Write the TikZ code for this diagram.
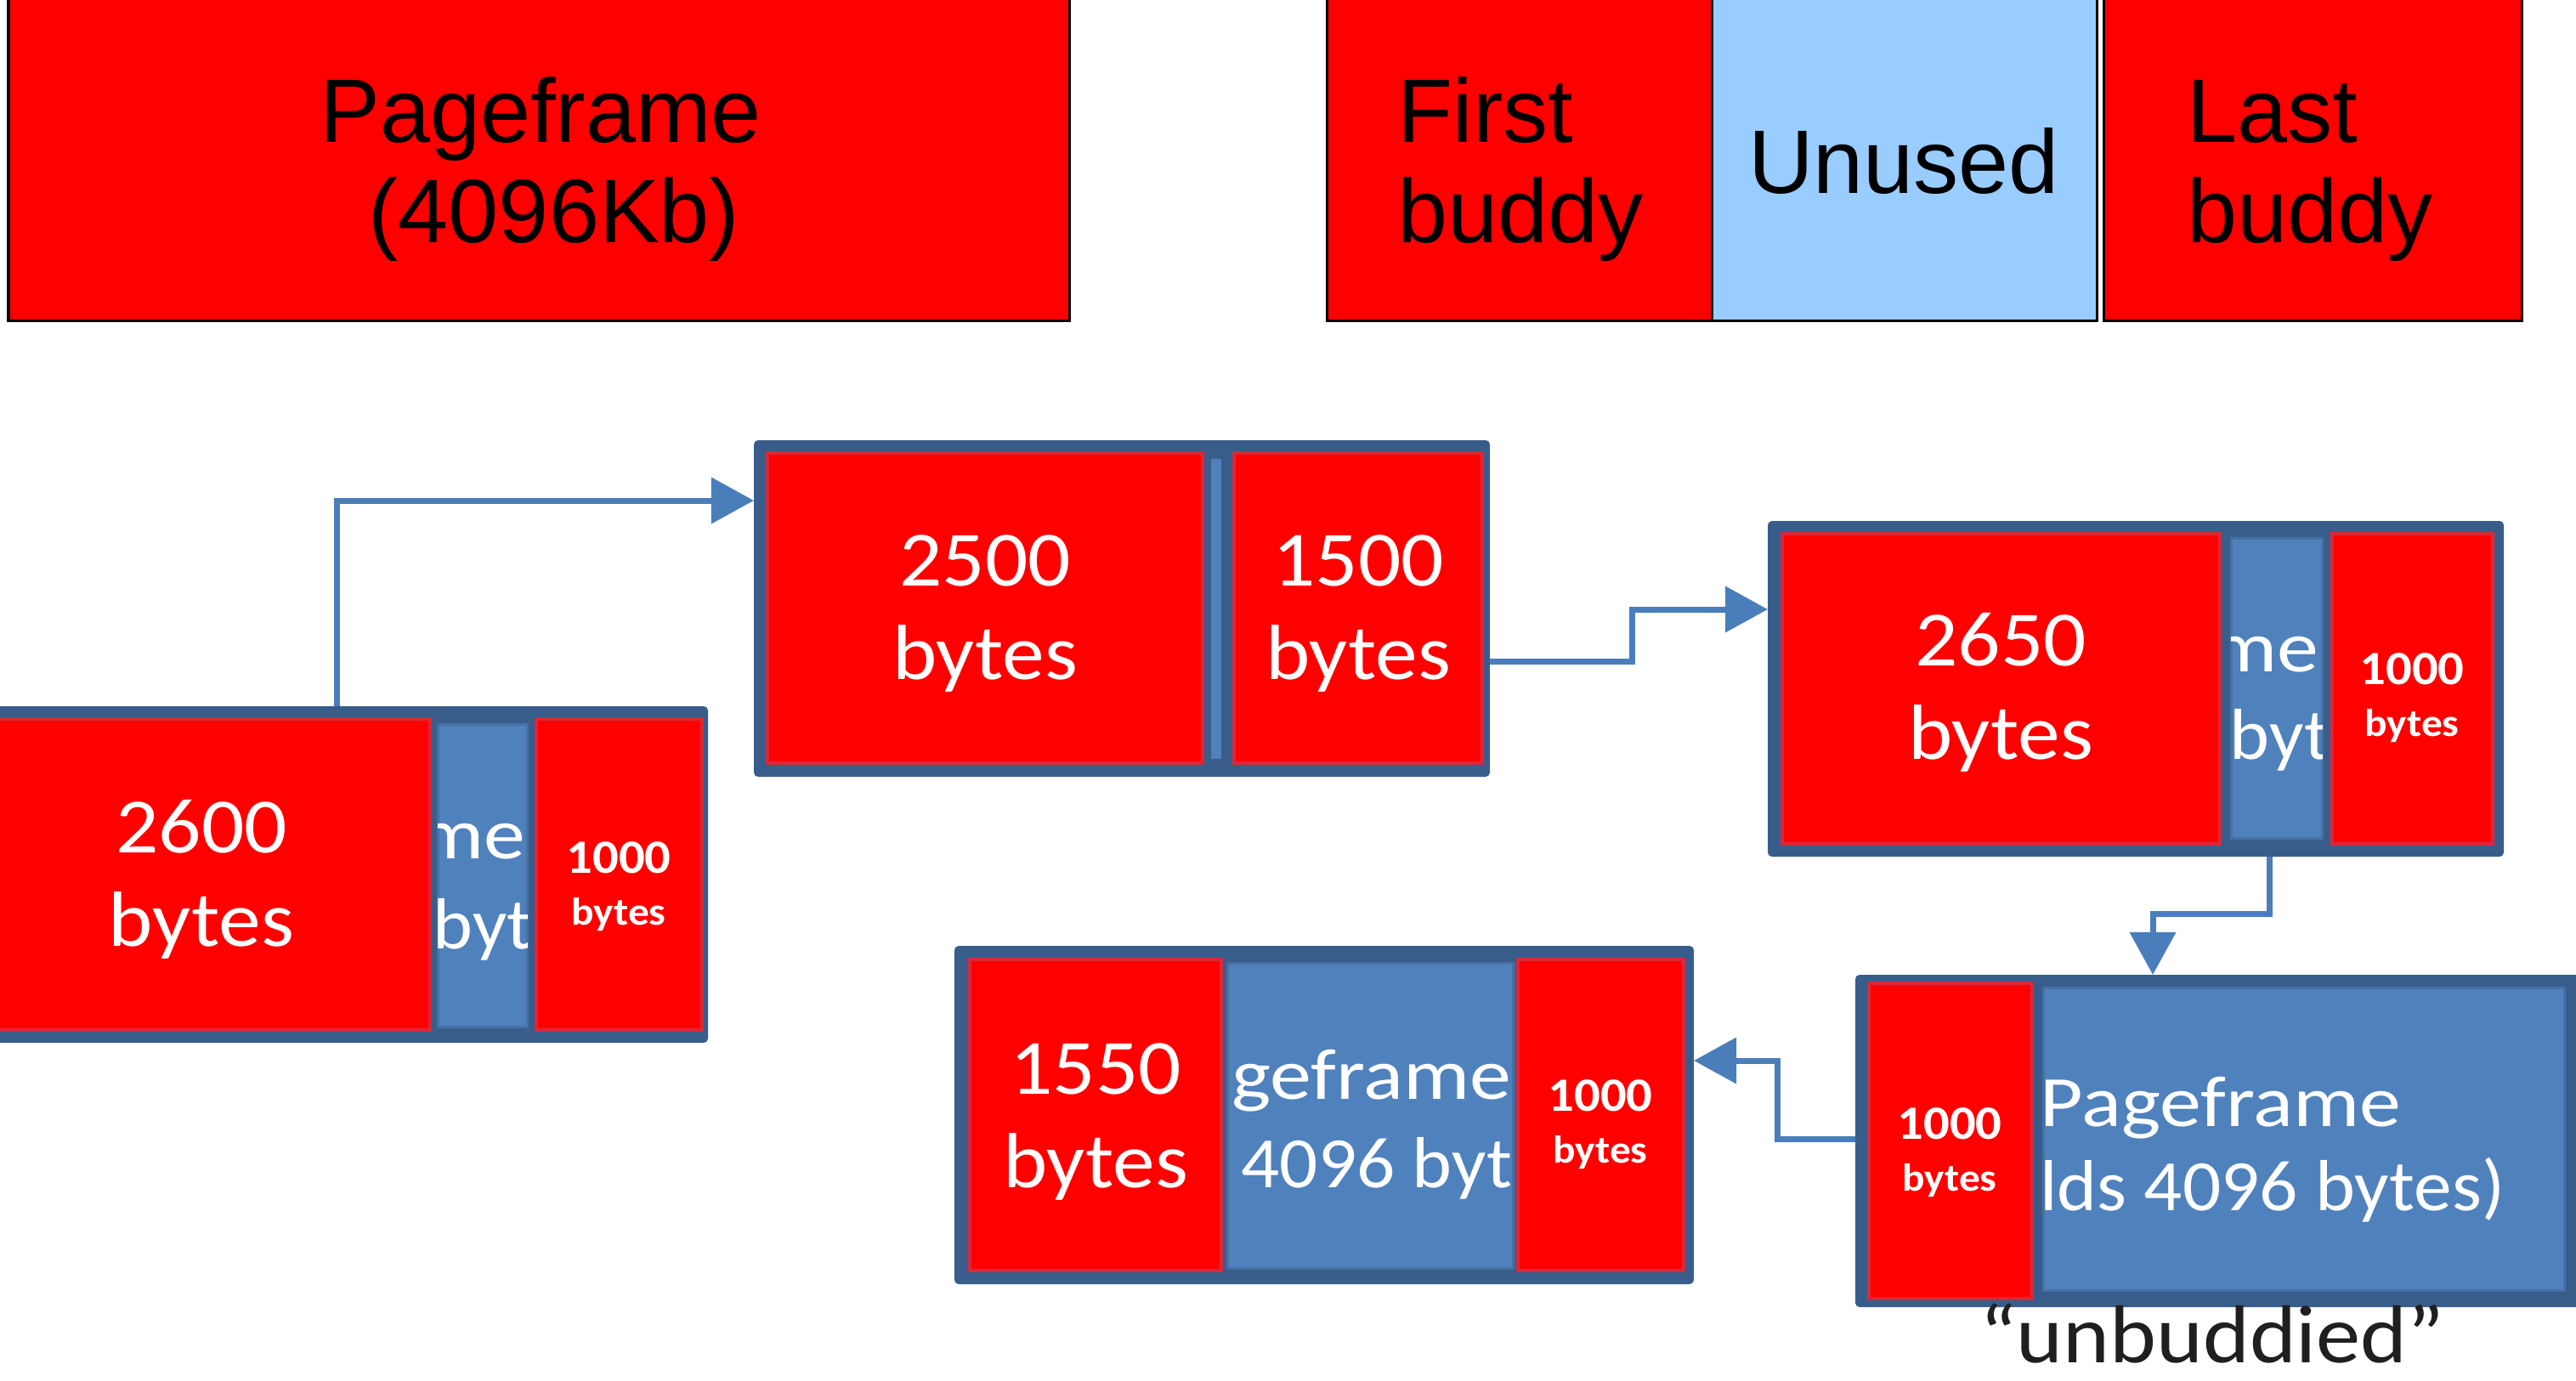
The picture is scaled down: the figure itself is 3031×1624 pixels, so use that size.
\documentclass[tikz,border=0pt]{standalone}
\usepackage{fontspec}
\usetikzlibrary{arrows.meta}
\newfontfamily\arialf{Liberation Sans}
\newfontfamily\calf[FakeStretch=1.08]{Carlito}
\newfontfamily\calh[FakeStretch=1.05]{Carlito}
\newfontfamily\calw[FakeStretch=1.15]{Carlito}
\definecolor{frameblue}{HTML}{385D8A}
\definecolor{cellblue}{HTML}{4F81BD}
\definecolor{connblue}{HTML}{4A7EBB}
\definecolor{lightblue}{HTML}{99CCFF}
\definecolor{redborder}{HTML}{D9283C}
\definecolor{cellblueedge}{HTML}{4671A6}
\tikzset{
  topred/.style={fill=red, draw=black, line width=0.03cm},
  topblue/.style={fill=lightblue, draw=black, line width=0.03cm},
  grpframe/.style={fill=frameblue, rounded corners=0.05cm},
  redcell/.style={fill=red, draw=redborder, line width=0.04cm},
  bluecell/.style={fill=cellblue, draw=cellblueedge, line width=0.03cm},
  stripcell/.style={fill=cellblue},
  toptxt/.style={font=\arialf\fontsize{30.2}{33.6}\selectfont, inner sep=0, text=black},
  bigtxt/.style={font=\calf\fontsize{26.2}{31.3}\selectfont, text=white, inner sep=0, anchor=base},
  smallnum/.style={font=\calf\bfseries\fontsize{16}{17.6}\selectfont, text=white, inner sep=0, anchor=base},
  pfline/.style={font=\calw\fontsize{24.2}{29}\selectfont, text=white, inner sep=0},
  hdline/.style={font=\calh\fontsize{24.2}{29}\selectfont, text=white, inner sep=0},
  captxt/.style={font=\calf\fontsize{27.5}{33}\selectfont, text=black!88, inner sep=0, anchor=base},
  conn/.style={draw=connblue, line width=0.07cm, -{Triangle[length=0.5cm,width=0.53cm]}},
}
\newcommand\boxnode[6]{%
  \pgfmathsetmacro\bnw{((#5)-(#3))*0.01}%
  \pgfmathsetmacro\bnh{((#6)-(#4))*0.01}%
  \node[#2, anchor=north west, inner sep=0, outer sep=0,
        minimum width=\bnw cm, minimum height=\bnh cm] (#1) at (#3,#4) {};}
% two stacked lines; the node's base is the first line's baseline
\newcommand\twol[3]{\begin{tabular}[t]{@{}#1@{}}#2\\#3\end{tabular}}
\newcommand\smallu{\fontsize{13}{17.6}\selectfont}
\begin{document}
\begin{tikzpicture}[x=0.01cm, y=-0.01cm]
\clip (0,0) rectangle (3031,1624);
\fill[white] (0,0) rectangle (3031,1624);

% ---------- top row ----------
\boxnode{pf}{topred}{10}{-20}{1258}{377}
\boxnode{fb}{topred}{1561}{-20}{2014}{377}
\boxnode{un}{topblue}{2014}{-20}{2467}{377}
\boxnode{lb}{topred}{2475}{-20}{2967}{377}
\node[toptxt, anchor=base] (pft) at (636,167) {\twol{c}{Pageframe}{\hspace*{0.3em}(4096Kb)}};
\node[toptxt, anchor=base west] (fbt) at (1644,167) {\twol{l}{First}{buddy}};
\node[toptxt, anchor=base] (unt) at (2240,227) {Unused};
\node[toptxt, anchor=base west] (lbt) at (2573,167) {\twol{l}{Last}{buddy}};

% ---------- group frames ----------
\boxnode{g1}{grpframe}{-40}{831}{833}{1227}
\boxnode{g2}{grpframe}{887}{518}{1753}{914}
\boxnode{g3}{grpframe}{2080}{613}{2946}{1008}
\boxnode{g4}{grpframe}{1123}{1113}{1993}{1511}
\boxnode{g5}{grpframe}{2183}{1147}{3060}{1538}

% ---------- cells ----------
\boxnode{g1a}{redcell}{-40}{846}{506}{1212}
\boxnode{g1b}{bluecell}{515}{852}{620}{1208}
\boxnode{g1c}{redcell}{631}{846}{826}{1212}

\boxnode{g2a}{redcell}{903}{533}{1415}{898}
\boxnode{g2s}{stripcell}{1425}{540}{1437}{893}
\boxnode{g2c}{redcell}{1452}{533}{1744}{898}

\boxnode{g3a}{redcell}{2097}{628}{2612}{993}
\boxnode{g3b}{bluecell}{2625}{633}{2732}{986}
\boxnode{g3c}{redcell}{2744}{628}{2933}{993}

\boxnode{g4a}{redcell}{1141}{1129}{1437}{1495}
\boxnode{g4b}{bluecell}{1444}{1133}{1780}{1492}
\boxnode{g4c}{redcell}{1786}{1129}{1981}{1495}

\boxnode{g5a}{redcell}{2199}{1157}{2391}{1528}
\boxnode{g5b}{bluecell}{2404}{1162}{3017}{1518}

% ---------- red cell texts ----------
\node[bigtxt] (t1a) at (237,1003) {\twol{c}{2600}{bytes}};
\node[bigtxt] (t2a) at (1159,689) {\twol{c}{2500}{bytes}};
\node[bigtxt] (t2c) at (1598,689) {\twol{c}{1500}{bytes}};
\node[bigtxt] (t3a) at (2354,783) {\twol{c}{2650}{bytes}};
\node[bigtxt] (t4a) at (1289,1287) {\twol{c}{1550}{bytes}};

\node[smallnum] (t1c) at (728,1027) {\twol{c}{1000}{\smallu bytes}};
\node[smallnum] (t3c) at (2838,805) {\twol{c}{1000}{\smallu bytes}};
\node[smallnum] (t4c) at (1883,1307) {\twol{c}{1000}{\smallu bytes}};
\node[smallnum] (t5a) at (2294,1340) {\twol{c}{1000}{\smallu bytes}};

% ---------- blue cell texts (clipped) ----------
\begin{scope}
\clip (g1b.north west) rectangle (g1b.south east);
\node[pfline, anchor=base east] (t1b1) at (619,1010) {Pageframe};
\node[hdline, anchor=base west] (t1b2) at (509,1116) {\llap{(holds 4096 }bytes)};
\end{scope}
\begin{scope}
\clip (g3b.north west) rectangle (g3b.south east);
\node[pfline, anchor=base east] (t3b1) at (2729,790) {Pageframe};
\node[hdline, anchor=base west] (t3b2) at (2623,893) {\llap{(holds 4096 }bytes)};
\end{scope}
\begin{scope}
\clip (g4b.north west) rectangle (g4b.south east);
\node[pfline, anchor=base east] (t4b1) at (1779,1293) {Pageframe};
\node[hdline, anchor=base west] (t4b2) at (1460,1397) {\llap{(holds }4096 bytes)};
\end{scope}
\begin{scope}
\clip (g5b.north west) rectangle (g5b.south east);
\node[pfline, anchor=base west] (t5b1) at (2400,1325) {Pageframe};
\node[hdline, anchor=base east] (t5b2) at (2948,1424) {(holds 4096 bytes)};
\end{scope}

\node[captxt] (cap) at (2603,1603) {\char"201C unbuddied\char"201D};

% ---------- connectors ----------
\coordinate (c1a) at (396,589);
\draw[conn] (g1.north -| c1a) -- (c1a) -- (g2.west |- c1a);
\coordinate (c2a) at (1920,778);
\coordinate (c2b) at (1920,717);
\draw[conn] (g2.east |- c2a) -- (c2a) -- (c2b) -- (g3.west |- c2b);
\coordinate (c3a) at (2670,1075);
\coordinate (c3b) at (2533,1075);
\draw[conn] (g3.south -| c3a) -- (c3a) -- (c3b) -- (g5.north -| c3b);
\coordinate (c4a) at (2091,1340);
\coordinate (c4b) at (2091,1248);
\draw[conn] (g5.west |- c4a) -- (c4a) -- (c4b) -- (g4.east |- c4b);
\end{tikzpicture}
\end{document}
